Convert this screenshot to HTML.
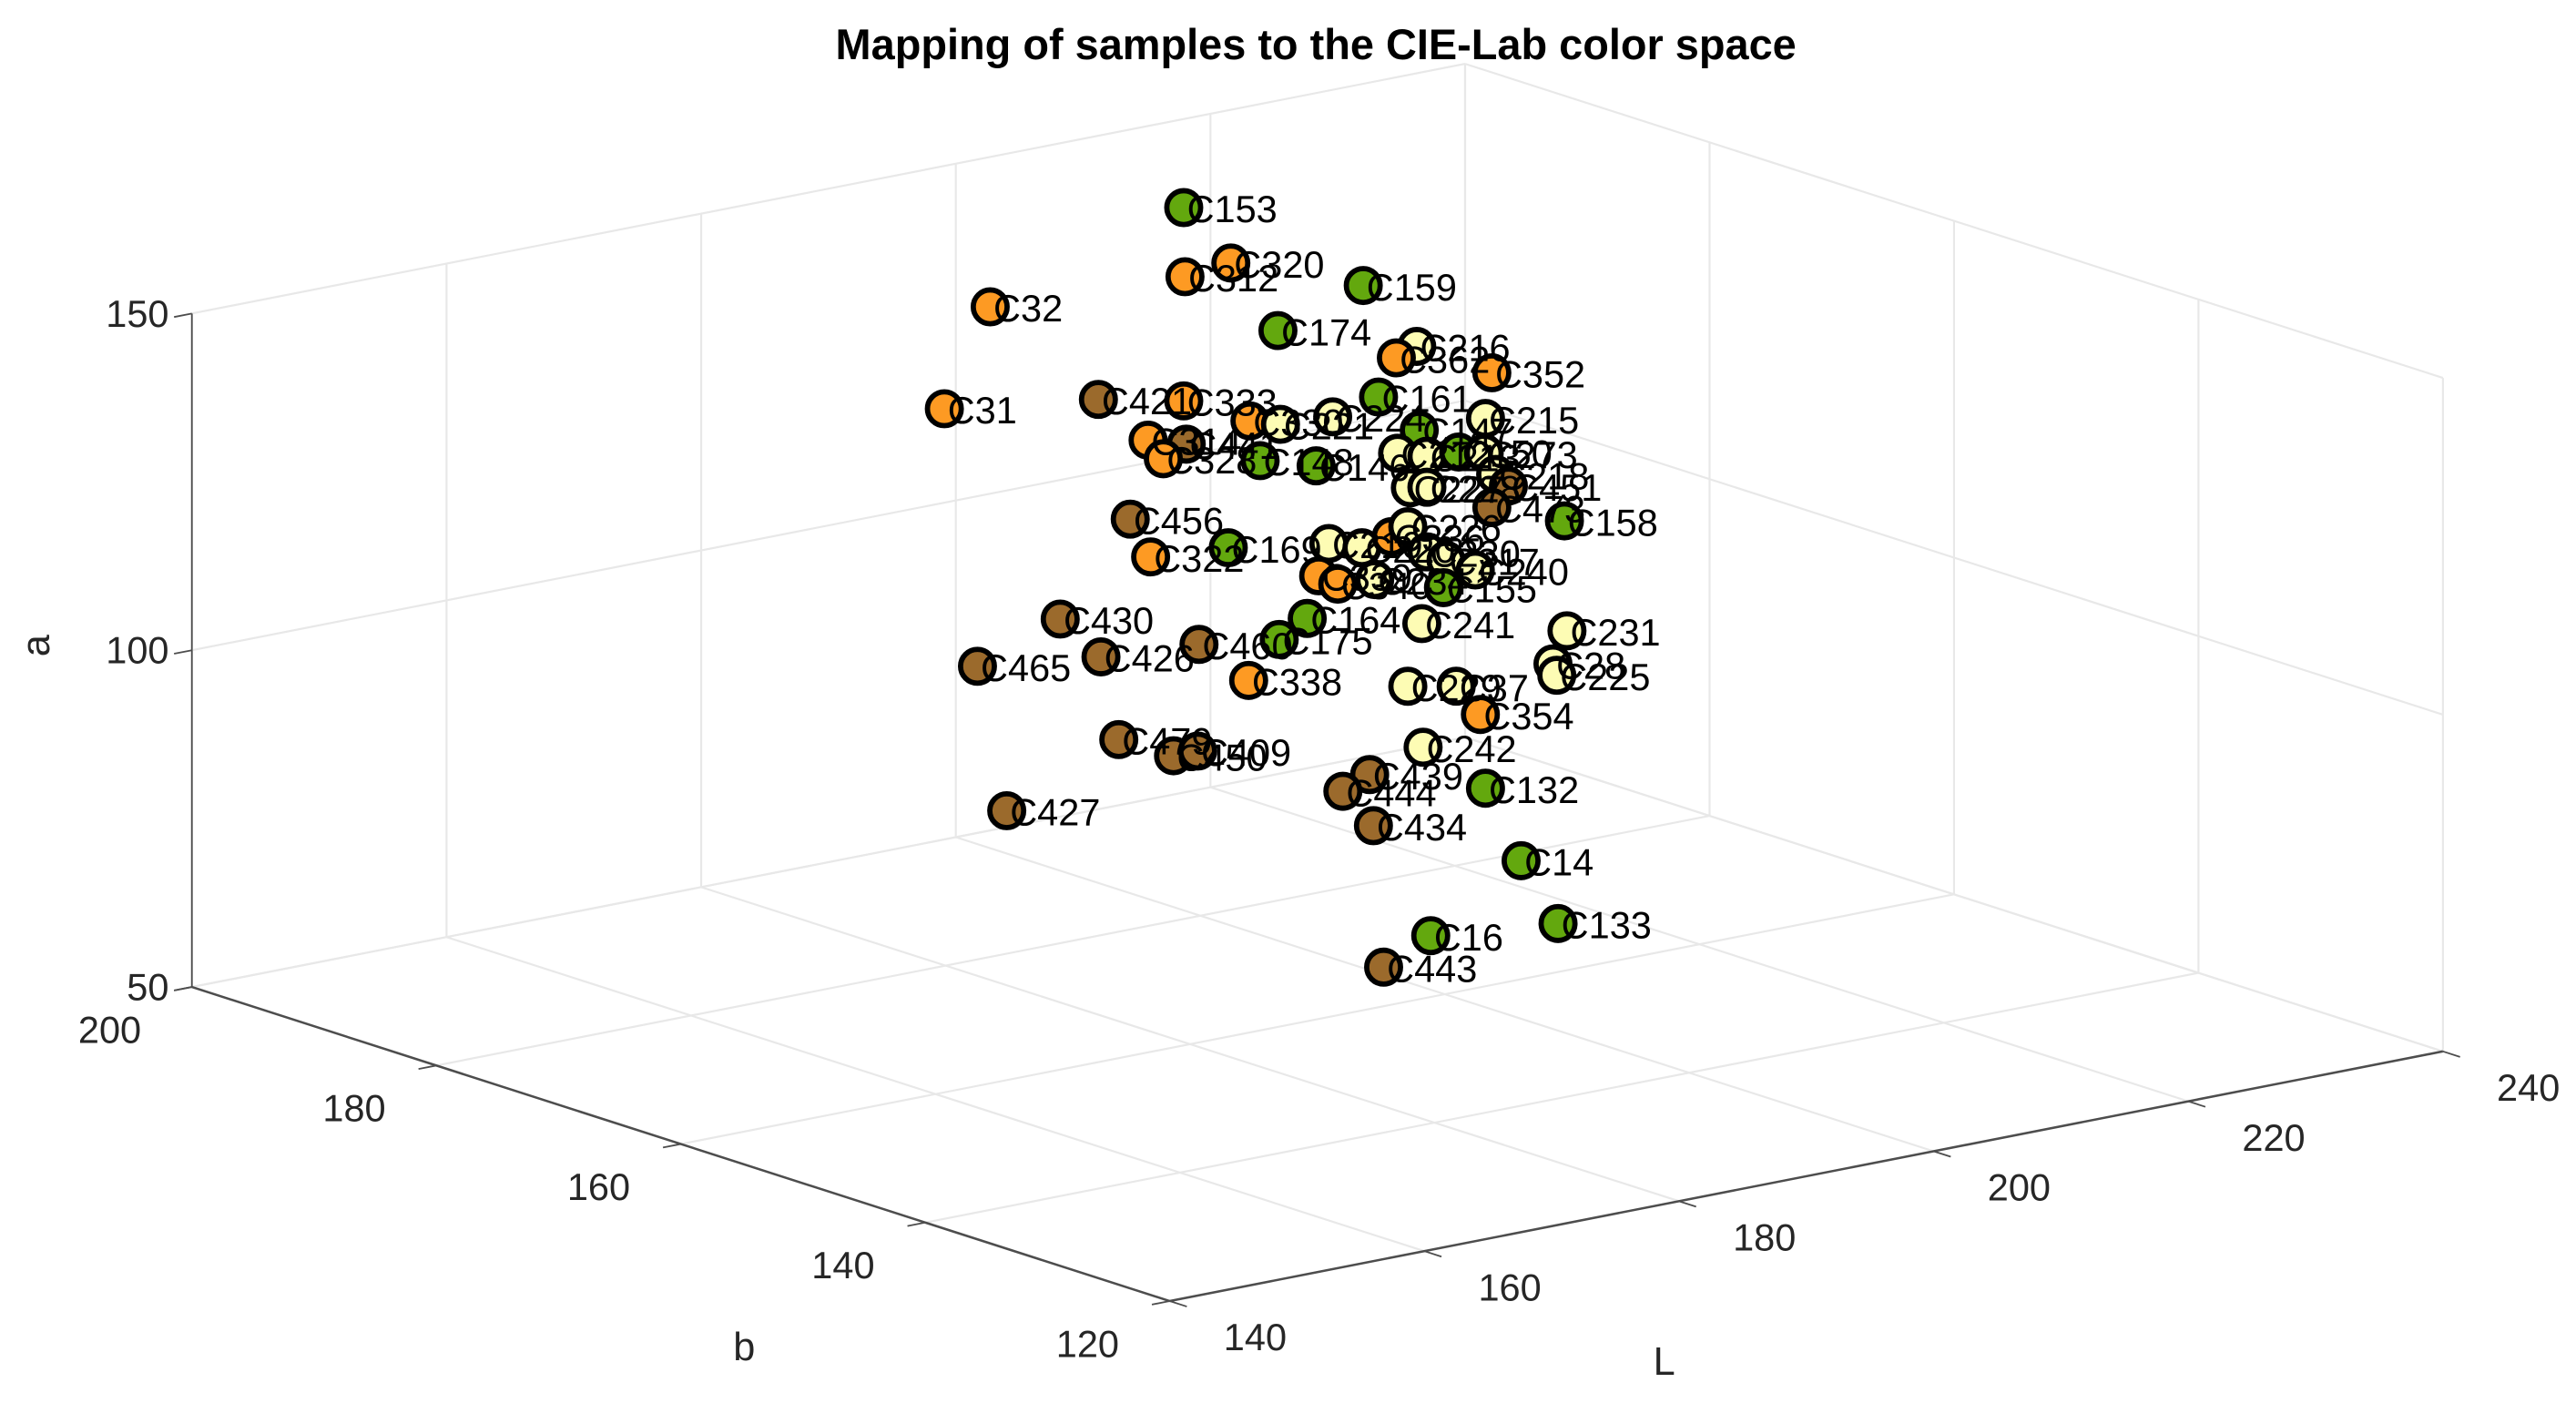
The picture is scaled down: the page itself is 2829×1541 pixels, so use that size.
<!DOCTYPE html>
<html><head><meta charset="utf-8">
<style>
html,body{margin:0;padding:0;background:#fff;}
svg{display:block;}
text{font-family:"Liberation Sans",Arial,sans-serif;fill:#262626;}
</style></head>
<body>
<svg id="chart" width="2829" height="1541" viewBox="0 0 1568 854" xmlns="http://www.w3.org/2000/svg">
<rect width="1568" height="854" fill="#fff"/>
<text x="801" y="36" text-anchor="middle" font-size="26" font-weight="bold" style="fill:#000">Mapping of samples to the CIE-Lab color space</text>
<g id="grid"></g>
<g id="axes"></g>
<g id="marks"></g>
<g id="labels"></g>
<text x="0" y="0" transform="translate(30,393) rotate(-90)" text-anchor="middle" font-size="24">a</text>
<text x="453" y="828" text-anchor="middle" font-size="24">b</text>
<text x="1013" y="837" text-anchor="middle" font-size="24">L</text>
</svg>
<script>
const names = ["C153","C320","C312","C159","C32","C174","C216","C362","C352","C421","C31","C161","C333","C215","C330","C221","C224","C147","C314","C441","C328","C148","C146","C212","C213","C150","C273","C227","C228","C218","C451","C473","C158","C456","C322","C169","C210","C220","C336","C226","C230","C217","C240","C339","C340","C234","C155","C164","C241","C231","C430","C460","C175","C426","C465","C338","C28","C225","C229","C37","C354","C242","C479","C450","C409","C439","C444","C132","C434","C427","C14","C133","C16","C443"];
const groups = ["G","O","O","G","O","G","Y","O","O","B","O","G","O","Y","O","Y","Y","G","O","B","O","G","G","Y","Y","G","Y","Y","Y","Y","B","B","G","B","O","G","Y","Y","O","Y","Y","Y","Y","O","O","Y","G","G","Y","Y","B","B","G","B","B","O","Y","Y","Y","Y","O","Y","B","B","B","B","B","G","B","B","G","G","G","B"];
const Lvals = [179.5,183.2,179.6,193.6,164.3,186.9,197.8,196.2,203.7,172.8,160.7,194.8,179.5,203.2,184.7,187.1,191.2,198.0,176.7,179.7,177.9,185.5,189.9,196.3,198.6,201.1,203.1,197.3,198.6,204.0,205.0,203.7,209.4,175.3,176.9,183.0,190.9,193.5,195.8,197.1,198.6,200.1,202.4,190.1,191.6,194.5,199.9,189.2,198.2,209.6,169.8,180.7,187.0,173.0,163.3,184.6,208.5,208.8,197.1,200.9,202.8,198.3,174.4,178.7,180.6,194.1,192.0,203.2,194.4,165.6,206.0,208.9,198.9,195.2];
const Avals = [174.4,164.8,164.1,157.6,165.3,153.4,147.0,145.9,140.9,148.4,151.5,140.6,145.7,134.3,140.8,139.4,139.0,134.5,140.9,139.2,137.7,134.6,132.2,131.7,130.4,130.1,129.2,126.2,125.8,125.7,123.6,120.9,116.8,129.7,123.5,122.6,120.3,118.7,119.5,120.5,116.2,114.4,112.1,115.8,114.0,113.6,110.4,109.8,105.7,100.4,116.9,109.1,107.5,110.1,112.3,102.3,95.9,94.1,96.8,95.4,90.5,87.3,97.3,93.3,93.3,84.8,83.1,79.4,77.1,90.0,67.6,57.2,59.1,55.8];
const Bvals = new Array(74).fill(160);
const Lticks = [140,160,180,200,220,240];
const Bticks = [120,140,160,180,200];
const Aticks = [50,100,150];
const fills = {G:"#63a80e",O:"#fd9a23",Y:"#fdfcb4",B:"#9b6a2c"};

function px(L,b,a){ return 712 + 7.75*(L-140) - 7.44*(b-120); }
function py(L,b,a){ return 792 - 1.52*(L-140) - 2.39*(b-120) - 4.1*(a-50); }
const NS="http://www.w3.org/2000/svg";
function line(parent,p,q,stroke,w){
  const el=document.createElementNS(NS,"line");
  el.setAttribute("x1",px(...p));el.setAttribute("y1",py(...p));
  el.setAttribute("x2",px(...q));el.setAttribute("y2",py(...q));
  el.setAttribute("stroke",stroke);el.setAttribute("stroke-width",w);
  parent.appendChild(el);return el;
}
function txt(parent,x,y,s,anchor,size){
  const t=document.createElementNS(NS,"text");
  t.setAttribute("x",x);t.setAttribute("y",y);t.setAttribute("font-size",size);
  t.setAttribute("text-anchor",anchor);t.textContent=s;parent.appendChild(t);return t;
}
const grid=document.getElementById("grid"), axes=document.getElementById("axes");
const gc="#e8e8e8";
Lticks.forEach(L=>{
  let g1=line(grid,[L,200,50],[L,200,150],gc,1.2);
  
  
  let g2=line(grid,[L,120,50],[L,200,50],gc,1.2);
  
  
});
Bticks.forEach(b=>{
  let g1=line(grid,[240,b,50],[240,b,150],gc,1.2);
  
  
  let g2=line(grid,[140,b,50],[240,b,50],gc,1.2);
  
  
});
Aticks.forEach(a=>{
  let g1=line(grid,[140,200,a],[240,200,a],gc,1.2);
  
  
  let g2=line(grid,[240,120,a],[240,200,a],gc,1.2);
  
  
});
const ac="#4d4d4d";
let ax1=line(axes,[140,200,50],[140,200,150],ac,1);


let ax2=line(axes,[140,120,50],[140,200,50],ac,1.4);


let ax3=line(axes,[140,120,50],[240,120,50],ac,1.4);


Aticks.forEach(a=>{
  let t=line(axes,[140,200,a],[138.6,200,a],ac,1);
  
  
  let l=txt(axes,px(140,200,a)-14,py(140,200,a)+8,String(a),"end",23);
  
  
});
Bticks.forEach(b=>{
  let t=line(axes,[140,b,50],[138.6,b,50],ac,1);
  
  
  let l=txt(axes,px(140,b,50)-50,py(140,b,50)+34,String(b),"middle",23);
  
  
});
Lticks.forEach(L=>{
  let t=line(axes,[L,120,50],[L,118.6,50],ac,1);
  
  
  let l=txt(axes,px(L,120,50)+52,py(L,120,50)+30,String(L),"middle",23);
  
  
});
const marks=document.getElementById("marks"), labels=document.getElementById("labels");
names.forEach((n,i)=>{
  const x=px(Lvals[i],Bvals[i],Avals[i]), y=py(Lvals[i],Bvals[i],Avals[i]);
  const c=document.createElementNS(NS,"circle");
  c.setAttribute("cx",x);c.setAttribute("cy",y);c.setAttribute("r",10.3);
  c.setAttribute("fill",fills[groups[i]]);c.setAttribute("stroke","#000");c.setAttribute("stroke-width",3.2);
  
  
  marks.appendChild(c);
  const t=txt(labels,x+2,y+9,n,"start",23);
  t.style.fill="#000";
  
  
});
</script>
</body></html>
